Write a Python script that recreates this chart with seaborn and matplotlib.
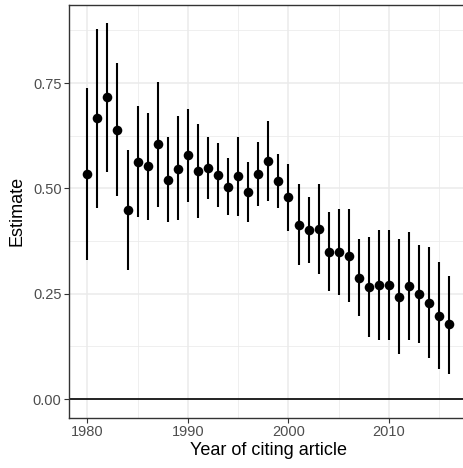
import matplotlib
matplotlib.use("Agg")
import matplotlib.pyplot as plt
from matplotlib.ticker import MultipleLocator, FormatStrFormatter
import seaborn as sns
import pandas as pd

# Yearly estimates with their lower/upper interval bounds
years = list(range(1980, 2017))
estimate = [0.534, 0.667, 0.716, 0.639, 0.449, 0.562, 0.553, 0.606, 0.520, 0.547,
            0.579, 0.541, 0.548, 0.531, 0.504, 0.529, 0.492, 0.534, 0.564, 0.517,
            0.479, 0.414, 0.401, 0.404, 0.350, 0.348, 0.340, 0.288, 0.267, 0.271,
            0.270, 0.243, 0.268, 0.249, 0.229, 0.198, 0.177]
lower = [0.329, 0.454, 0.538, 0.482, 0.306, 0.431, 0.425, 0.457, 0.420, 0.425,
         0.468, 0.429, 0.474, 0.457, 0.437, 0.435, 0.420, 0.458, 0.469, 0.453,
         0.400, 0.318, 0.322, 0.297, 0.257, 0.247, 0.230, 0.197, 0.148, 0.140,
         0.140, 0.107, 0.140, 0.132, 0.098, 0.071, 0.059]
upper = [0.738, 0.878, 0.892, 0.797, 0.591, 0.696, 0.680, 0.753, 0.622, 0.671,
         0.688, 0.652, 0.623, 0.607, 0.572, 0.623, 0.563, 0.610, 0.660, 0.581,
         0.558, 0.510, 0.479, 0.510, 0.443, 0.451, 0.451, 0.381, 0.384, 0.402,
         0.401, 0.379, 0.396, 0.366, 0.362, 0.325, 0.293]

df = pd.DataFrame({"year": years, "estimate": estimate, "lower": lower, "upper": upper})

sns.set_theme(style="white")
plt.rcParams["font.family"] = ["Liberation Sans", "DejaVu Sans"]

W, H = 464, 468
fig = plt.figure(figsize=(W / 100, H / 100), dpi=100)
x0, x1 = 1978.2, 2017.8
y0, y1 = -0.0446, 0.9366
left_px, right_px = 69.2, 467.5
top_px, bottom_px = 4.5, 417.8
ax = fig.add_axes([left_px / W, 1 - bottom_px / H,
                   (right_px - left_px) / W, (bottom_px - top_px) / H])

# reference line at zero
ax.axhline(0, color="black", lw=1.2, zorder=2)

# interval bars and point estimates
ax.vlines(df["year"], df["lower"], df["upper"], color="black", lw=1.5, zorder=3)
sns.scatterplot(data=df, x="year", y="estimate", ax=ax, color="black",
                s=48, edgecolor="black", linewidth=0, zorder=4, legend=False)

ax.set_xlim(x0, x1)
ax.set_ylim(y0, y1)
ax.xaxis.set_major_locator(MultipleLocator(10))
ax.xaxis.set_minor_locator(MultipleLocator(5))
ax.yaxis.set_major_locator(MultipleLocator(0.25))
ax.yaxis.set_minor_locator(MultipleLocator(0.125))
ax.yaxis.set_major_formatter(FormatStrFormatter("%.2f"))

ax.grid(True, which="major", color="#EBEBEB", lw=1.1, zorder=0)
ax.grid(True, which="minor", color="#EBEBEB", lw=0.55, zorder=0)
ax.set_axisbelow(True)

for s in ax.spines.values():
    s.set_color("#333333")
    s.set_linewidth(1.0)
ax.spines["right"].set_visible(False)

ax.tick_params(axis="both", which="major", length=3.5, width=0.8, color="#333333",
               labelcolor="#4D4D4D", labelsize=10.5, pad=2, direction="out",
               bottom=True, left=True)
ax.tick_params(axis="both", which="minor", length=0)

ax.set_xlabel("Year of citing article", fontsize=13, color="black", labelpad=2)
ax.set_ylabel("Estimate", fontsize=13, color="black", labelpad=5)

fig.savefig("out.png", dpi=100)
